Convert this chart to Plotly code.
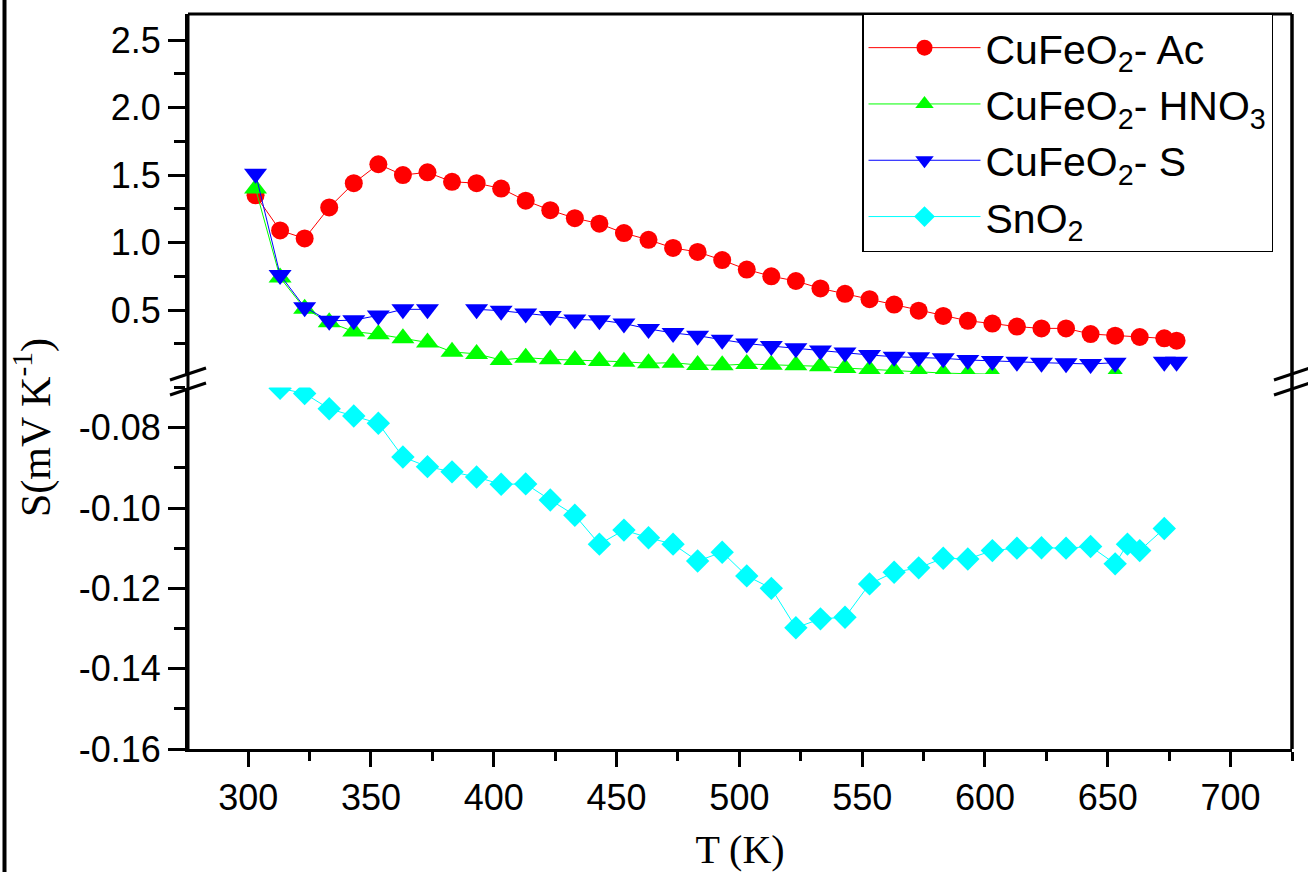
import plotly.graph_objects as go

# Temperature grid of the CuFeO2 measurements (K)
T_cufeo2 = [303, 313, 323, 333, 343, 353, 363, 373, 383, 393, 403, 413, 423,
            433, 443, 453, 463, 473, 483, 493, 503, 513, 523, 533, 543, 553,
            563, 573, 583, 593, 603, 613, 623, 633, 643, 653, 663, 673, 678]

# Seebeck coefficient S (mV/K)
S_ac = [1.35, 1.09, 1.03, 1.26, 1.44, 1.58, 1.50, 1.52, 1.45, 1.44, 1.40, 1.31,
        1.24, 1.18, 1.14, 1.07, 1.02, 0.96, 0.93, 0.87, 0.80, 0.75, 0.715, 0.66,
        0.62, 0.58, 0.54, 0.495, 0.456, 0.42, 0.40, 0.377, 0.364, 0.364, 0.322,
        0.31, 0.30, 0.29, 0.273]

S_hno3 = [1.40, 0.74, 0.51, 0.41, 0.34, 0.32, 0.29, 0.26, 0.19, 0.175, 0.13,
          0.147, 0.135, 0.13, 0.122, 0.117, 0.105, 0.11, 0.093, 0.09, 0.10,
          0.095, 0.09, 0.083, 0.07, 0.06, 0.05, 0.04, 0.033, 0.028, 0.025,
          None, None, None, None, 0.025, None, None, None]

S_s = [1.51, 0.76, 0.52, 0.42, 0.425, 0.46, 0.505, 0.505, None, 0.505, 0.495,
       0.475, 0.456, 0.43, 0.425, 0.40, 0.36, 0.33, 0.31, 0.28, 0.252, 0.233,
       0.216, 0.20, 0.186, 0.167, 0.154, 0.15, 0.142, 0.13, 0.122, 0.117, 0.11,
       0.105, 0.10, 0.11, None, 0.117, 0.117]

# SnO2 measurements
T_sno2 = [313, 323, 333, 343, 353, 363, 373, 383, 393, 403, 413, 423, 433, 443,
          453, 463, 473, 483, 493, 503, 513, 523, 533, 543, 553, 563, 573, 583,
          593, 603, 613, 623, 633, 643, 653, 658, 663, 673]
S_sno2 = [-0.0702, -0.0715, -0.0753, -0.0771, -0.0789, -0.0873, -0.0897,
          -0.0910, -0.0923, -0.0941, -0.0940, -0.0980, -0.1018, -0.1090,
          -0.1055, -0.1074, -0.1090, -0.1132, -0.1110, -0.1169, -0.1200,
          -0.1298, -0.1276, -0.1272, -0.1189, -0.1160, -0.1149, -0.1125,
          -0.1127, -0.1106, -0.1100, -0.1099, -0.1100, -0.1096, -0.1139,
          -0.1090, -0.1106, -0.1051]

# Axis ticks
x_ticks = [300, 350, 400, 450, 500, 550, 600, 650, 700]
upper_ticks = [0.5, 1.0, 1.5, 2.0, 2.5]
upper_ticktext = ["0.5", "1.0", "1.5", "2.0", "2.5"]
lower_ticks = [-0.16, -0.14, -0.12, -0.10, -0.08]
lower_ticktext = ["-0.16", "-0.14", "-0.12", "-0.10", "-0.08"]

W, H = 1308, 872
ML, MR, MT, MB = 188, 16, 14, 123
PW, PH = W - ML - MR, H - MT - MB


def paper_x(px):
    return (px - ML) / PW


def paper_y(py):
    return (H - MB - py) / PH


UPPER_BOTTOM_PX = 374
LOWER_TOP_PX = 387.5

TICK_FONT = dict(family="Liberation Sans, Arial", size=36, color="black")
TITLE_FONT = dict(family="Liberation Serif, Times New Roman", size=40, color="black")

fig = go.Figure()

series = [
    ("CuFeO<sub>2</sub>- Ac", T_cufeo2, S_ac, "#FF0000", "circle", 18, "y2"),
    ("CuFeO<sub>2</sub>- HNO<sub>3</sub>", T_cufeo2, S_hno3, "#00FF00", "triangle-up", 20, "y2"),
    ("CuFeO<sub>2</sub>- S", T_cufeo2, S_s, "#0000FF", "triangle-down", 20, "y2"),
    ("SnO<sub>2</sub>", T_sno2, S_sno2, "#00FFFF", "diamond", 18, "y"),
]
for name, xs, ys, color, symbol, size, yax in series:
    fig.add_trace(go.Scatter(
        x=xs, y=ys, name=name, mode="lines+markers", yaxis=yax,
        line=dict(color=color, width=1),
        marker=dict(symbol=symbol, size=size, color=color, line=dict(width=0)),
        connectgaps=False,
    ))

axis_common = dict(
    showline=True, linecolor="black", linewidth=3,
    ticks="outside", tickcolor="black", tickwidth=2.5,
    showgrid=False, zeroline=False, tickfont=TICK_FONT, automargin=False,
)

fig.update_layout(
    width=W, height=H,
    margin=dict(l=ML, r=MR, t=MT, b=MB, autoexpand=False),
    paper_bgcolor="white", plot_bgcolor="white",
    xaxis=dict(
        range=[275.5, 725], tickvals=x_ticks, ticklen=15,
        minor=dict(dtick=25, tick0=275, ticklen=9, tickwidth=2.5,
                   tickcolor="black", ticks="outside"),
        title=dict(text="T (K)", font=TITLE_FONT, standoff=22),
        anchor="y", **axis_common,
    ),
    yaxis=dict(
        domain=[0, paper_y(LOWER_TOP_PX)], range=[-0.16, -0.07],
        tickvals=lower_ticks, ticktext=lower_ticktext, ticklen=17,
        minor=dict(dtick=0.01, tick0=-0.16, ticklen=11, tickwidth=2.5,
                   tickcolor="black", ticks="outside"),
        anchor="x", **axis_common,
    ),
    yaxis2=dict(
        domain=[paper_y(UPPER_BOTTOM_PX), 1], range=[0.026, 2.693],
        tickvals=upper_ticks, ticktext=upper_ticktext, ticklen=17,
        minor=dict(dtick=0.25, tick0=0, ticklen=11, tickwidth=2.5,
                   tickcolor="black", ticks="outside"),
        anchor="x", **axis_common,
    ),
    legend=dict(
        x=paper_x(862), y=paper_y(13), xanchor="left", yanchor="top",
        bgcolor="white", bordercolor="black", borderwidth=1.5,
        font=dict(family="Liberation Sans, Arial", size=41, color="black"),
        itemwidth=112, tracegroupgap=0,
    ),
    showlegend=True,
)

shapes = []
# frame: top and right borders, continuous left spine through the break
shapes.append(dict(type="line", xref="paper", yref="paper", x0=0, x1=1, y0=1, y1=1,
                   line=dict(color="black", width=3)))
shapes.append(dict(type="line", xref="paper", yref="paper", x0=1, x1=1, y0=0, y1=1,
                   line=dict(color="black", width=3.5)))
shapes.append(dict(type="line", xref="paper", yref="paper", x0=0, x1=0, y0=0, y1=1,
                   line=dict(color="black", width=3)))
# axis break marks on both spines
for spine_px in (ML, W - MR):
    for py in (UPPER_BOTTOM_PX, LOWER_TOP_PX + 1.5):
        shapes.append(dict(
            type="line", xref="paper", yref="paper",
            x0=paper_x(spine_px - 18), y0=paper_y(py + 6),
            x1=paper_x(spine_px + 18), y1=paper_y(py - 6),
            line=dict(color="black", width=3)))
# page border bar on the left edge
shapes.append(dict(type="rect", xref="paper", yref="paper",
                   x0=paper_x(2.5), x1=paper_x(6.5), y0=paper_y(H), y1=paper_y(0),
                   fillcolor="black", line=dict(width=0)))
fig.update_layout(shapes=shapes)

fig.add_annotation(
    text="S(mV K<sup>-1</sup>)", xref="paper", yref="paper",
    x=paper_x(33), y=paper_y(428), textangle=-90, showarrow=False,
    xanchor="center", yanchor="middle", font=dict(TITLE_FONT, size=42),
)

fig.write_html("out.html")
